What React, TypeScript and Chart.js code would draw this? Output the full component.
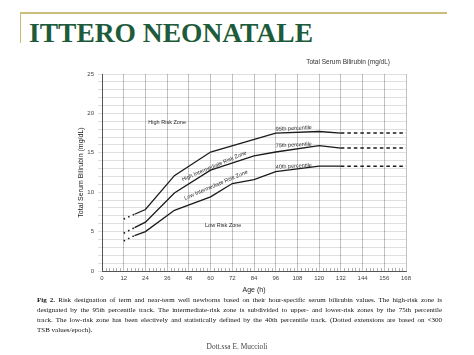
import React, { useEffect, useRef } from "react";
import { Chart, registerables } from "chart.js";

Chart.register(...registerables);

// ---- data (hours of age vs total serum bilirubin, mg/dL) ----
const ageTicks = [0, 12, 24, 36, 48, 60, 72, 84, 96, 108, 120, 132, 144, 156, 168];
const tsbTicks = [0, 5, 10, 15, 20, 25];

const hours95 = [12, 18, 24, 40, 60, 96, 120, 132, 168];
const tsb95 = [6.6, 7.2, 7.8, 12.1, 15.1, 17.5, 17.7, 17.5, 17.5];

const hours75 = [12, 18, 24, 40, 60, 84, 96, 120, 132, 168];
const tsb75 = [4.8, 5.5, 6.2, 9.9, 12.8, 14.6, 15.1, 15.9, 15.6, 15.6];

const hours40 = [12, 18, 24, 40, 60, 72, 84, 96, 120, 132, 168];
const tsb40 = [3.8, 4.5, 5.0, 7.7, 9.4, 11.1, 11.6, 12.6, 13.3, 13.3, 13.3];

const DOTTED_END = 18; // dotted extension before this hour
const DASHED_START = 132; // dashed extension after this hour

const zoneTexts = [
  "High Risk Zone",
  "High Intermediate Risk Zone",
  "Low Intermediate Risk Zone",
  "Low Risk Zone",
  "95th percentile",
  "75th percentile",
  "40th percentile",
];
const zoneHours = [36, 62, 63, 67, 106, 106, 106];
const zoneTsb = [18.9, 13.3, 10.9, 5.8, 18.1, 16.0, 13.3];
const zoneAngles = [0, -23, -23, 0, -3, -3, -3];

const captionLines = [
  "Risk designation of term and near-term well newborns based on their hour-specific serum bilirubin values. The high-risk zone is",
  "designated by the 95th percentile track. The intermediate-risk zone is subdivided to upper- and lower-risk zones by the 75th percentile",
  "track. The low-risk zone has been electively and statistically defined by the 40th percentile track. (Dotted extensions are based on <300",
  "TSB values/epoch).",
];

const SANS = 'Arial, "Liberation Sans", sans-serif';
const SERIF = '"Liberation Serif", "Times New Roman", serif';

const toPoints = (xs: number[], ys: number[]) => xs.map((x, i) => ({ x, y: ys[i] }));

const annotPlugin = {
  id: "annot",
  afterDatasetsDraw(chart: any) {
    const { ctx, scales, chartArea } = chart;
    const x = scales.x;
    const y = scales.y;
    ctx.save();
    // minor ticks along the time axis
    ctx.strokeStyle = "rgba(0,0,0,0.45)";
    ctx.lineWidth = 0.7;
    const y0 = y.getPixelForValue(0);
    for (let h = 2; h < 168; h += 2) {
      if (h % 12 === 0) continue;
      const px = Math.round(x.getPixelForValue(h)) + 0.5;
      ctx.beginPath();
      ctx.moveTo(px, y0);
      ctx.lineTo(px, y0 - 3);
      ctx.stroke();
    }
    // zone / percentile labels
    ctx.fillStyle = "#2a2a2a";
    ctx.font = `5.5px ${SANS}`;
    ctx.textAlign = "center";
    ctx.textBaseline = "middle";
    zoneTexts.forEach((t, i) => {
      ctx.save();
      ctx.translate(x.getPixelForValue(zoneHours[i]), y.getPixelForValue(zoneTsb[i]));
      ctx.rotate((zoneAngles[i] * Math.PI) / 180);
      ctx.fillText(t, 0, 0);
      ctx.restore();
    });
    // header text above the plot
    ctx.font = `6.5px ${SANS}`;
    ctx.fillStyle = "#333";
    ctx.textAlign = "right";
    ctx.fillText("Total Serum Bilirubin (mg/dL)", chartArea.right - 16, chartArea.top - 12);
    ctx.restore();
  },
};

export default function App() {
  const ref = useRef<HTMLCanvasElement>(null);

  useEffect(() => {
    const lineColor = "#1a1a1a";
    const segment = {
      borderDash: (c: any) =>
        c.p1.parsed.x <= DOTTED_END ? [1.5, 3.4] : c.p0.parsed.x >= DASHED_START ? [3.5, 3] : undefined,
      borderWidth: (c: any) => (c.p0.parsed.x >= DASHED_START ? 1.5 : c.p1.parsed.x <= DOTTED_END ? 1.6 : 1.3),
    };
    const mk = (label: string, xs: number[], ys: number[]) => ({
      label,
      data: toPoints(xs, ys),
      borderColor: lineColor,
      borderWidth: 1.3,
      pointRadius: 0,
      fill: false,
      tension: 0,
      borderCapStyle: "butt",
      segment,
    });

    const chart = new Chart(ref.current as HTMLCanvasElement, {
      type: "line",
      data: {
        datasets: [
          mk("95th percentile", hours95, tsb95),
          mk("75th percentile", hours75, tsb75),
          mk("40th percentile", hours40, tsb40),
        ] as any,
      },
      options: {
        animation: false,
        responsive: false,
        devicePixelRatio: 1,
        layout: { padding: { left: 47, right: 44, top: 19, bottom: 0 } },
        plugins: { legend: { display: false }, tooltip: { enabled: false } },
        scales: {
          x: {
            type: "linear",
            min: 0,
            max: 168,
            afterFit: (s: any) => {
              s.height = 26;
            },
            afterBuildTicks: (s: any) => {
              s.ticks = ageTicks.map((v) => ({ value: v }));
            },
            ticks: {
              autoSkip: false,
              maxRotation: 0,
              padding: 4,
              font: { size: 6, family: SANS },
              color: "#444",
            },
            grid: { color: "rgba(0,0,0,0.3)", lineWidth: 0.8, drawTicks: false },
            border: { color: "#555", width: 1 },
            title: {
              display: true,
              text: "Age (h)",
              font: { size: 7, family: SANS },
              color: "#222",
              padding: { top: 0, bottom: 2.8 },
            },
          },
          y: {
            type: "linear",
            min: 0,
            max: 25,
            afterFit: (s: any) => {
              s.width = 25;
            },
            ticks: {
              stepSize: 1,
              autoSkip: false,
              padding: 4,
              callback: (v: any) => (tsbTicks.includes(Number(v)) ? String(v) : ""),
              font: { size: 6, family: SANS },
              color: "#444",
            },
            grid: { color: "rgba(0,0,0,0.16)", lineWidth: 0.8, tickLength: 4 },
            border: { color: "#555", width: 1 },
            title: {
              display: true,
              text: "Total Serum Bilirubin (mg/dL)",
              font: { size: 7, family: SANS },
              color: "#222",
              padding: { top: 0, bottom: 0 },
            },
          },
        },
      },
      plugins: [annotPlugin as any],
    });
    return () => chart.destroy();
  }, []);

  const capStyle: React.CSSProperties = {
    position: "absolute",
    left: 37,
    width: 405,
    fontFamily: SERIF,
    fontSize: 7,
    lineHeight: "10px",
    color: "#111",
    textAlign: "justify",
    textAlignLast: "justify" as any,
    whiteSpace: "nowrap",
  };

  return (
    <div
      style={{
        position: "absolute",
        left: 0,
        top: 0,
        width: 474,
        height: 355,
        background: "#fff",
        overflow: "hidden",
      }}
    >
      <div style={{ position: "absolute", left: 20, top: 12, width: 427, height: 1.5, background: "#cbbd7a" }} />
      <div style={{ position: "absolute", left: 19.5, top: 12, width: 1.5, height: 31, background: "#cbbd7a" }} />
      <div
        style={{
          position: "absolute",
          left: 29,
          top: 19,
          fontFamily: SERIF,
          fontWeight: "bold",
          fontSize: 27.5,
          lineHeight: "28px",
          color: "#1d5b3a",
          whiteSpace: "nowrap",
        }}
      >
        ITTERO NEONATALE
      </div>
      <canvas
        ref={ref}
        width={420}
        height={242}
        style={{ position: "absolute", left: 30, top: 55, width: 420, height: 242 }}
      />
      {captionLines.map((line, i) => (
        <div
          key={i}
          style={{
            ...capStyle,
            top: 295 + i * 10,
            textAlign: i === captionLines.length - 1 ? "left" : "justify",
            textAlignLast: (i === captionLines.length - 1 ? "left" : "justify") as any,
          }}
        >
          {i === 0 ? (
            <>
              <b>Fig 2.</b> {line}
            </>
          ) : (
            line
          )}
        </div>
      ))}
      <div
        style={{
          position: "absolute",
          left: 0,
          width: 474,
          top: 342,
          textAlign: "center",
          fontFamily: SERIF,
          fontSize: 7.4,
          lineHeight: "10px",
          color: "#444",
        }}
      >
        Dott.ssa E. Muccioli
      </div>
    </div>
  );
}
